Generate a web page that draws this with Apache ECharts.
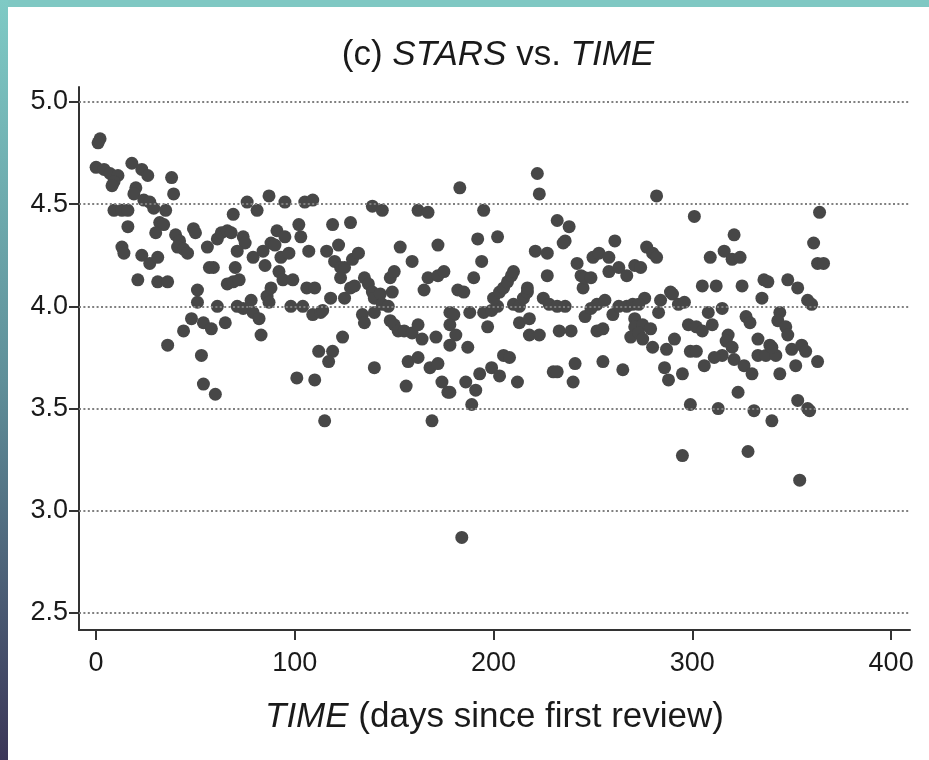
<!DOCTYPE html>
<html>
<head>
<meta charset="utf-8">
<script src="https://cdn.jsdelivr.net/npm/echarts@6/dist/echarts.min.js"></script>
<style>
html,body{margin:0;padding:0;background:#fff;}
#chart{width:929px;height:760px;}
</style>
</head>
<body>
<div id="chart"></div>
<script>
// ---- data (day since first review, stars) ----
const titleParts = ['(c) ', 'STARS', ' vs. ', 'TIME'];
const xAxisTitle = ['TIME', ' (days since first review)'];
const xTicks = [0, 100, 200, 300, 400];
const yTicks = [2.5, 3.0, 3.5, 4.0, 4.5, 5.0];

const reviews = [
[2,4.82],[1,4.80],[0,4.68],[4,4.67],[7,4.65],[11,4.64],[9,4.61],[8,4.59],[18,4.70],[23,4.67],[26,4.64],[38,4.63],[39,4.55],[20,4.58],[19,4.55],[24,4.52],[27,4.51],[29,4.48],[9,4.47],[13,4.47],[16,4.47],[35,4.47],[32,4.41],[34,4.40],[30,4.36],[16,4.39],[13,4.29],[14,4.26],[23,4.25],[27,4.21],[31,4.24],[21,4.13],[31,4.12],[36,4.12],[40,4.35],[42,4.32],[41,4.29],[44,4.28],[46,4.26],[49,4.38],[50,4.36],[56,4.29],[57,4.19],[59,4.19],[66,4.11],[69,4.12],[72,4.13],[70,4.19],[61,4.33],[63,4.36],[66,4.37],[68,4.36],[69,4.45],[76,4.51],[81,4.47],[87,4.54],[74,4.34],[75,4.31],[71,4.27],[79,4.24],[84,4.27],[85,4.20],[51,4.08],[51,4.02],[61,4.00],[71,4.00],[74,3.99],[78,4.03],[79,3.97],[82,3.94],[86,4.05],[87,4.02],[48,3.94],[54,3.92],[58,3.89],[65,3.92],[44,3.88],[36,3.81],[83,3.86],[53,3.76],[54,3.62],[60,3.57],
[95,4.51],[105,4.51],[109,4.52],[139,4.49],[144,4.47],[162,4.47],[167,4.46],[91,4.37],[95,4.34],[102,4.40],[103,4.34],[119,4.40],[128,4.41],[88,4.31],[90,4.30],[93,4.24],[97,4.26],[107,4.27],[116,4.27],[122,4.30],[120,4.22],[123,4.19],[125,4.19],[129,4.23],[132,4.26],[123,4.14],[92,4.17],[94,4.13],[99,4.13],[88,4.09],[106,4.09],[110,4.09],[98,4.00],[104,4.00],[109,3.96],[113,3.97],[114,3.98],[118,4.04],[125,4.04],[128,4.09],[130,4.10],[124,3.85],[112,3.78],[119,3.78],[117,3.73],[101,3.65],[110,3.64],[115,3.44],
[135,4.14],[137,4.11],[139,4.07],[140,4.04],[143,4.06],[144,4.01],[147,4.00],[149,4.07],[148,4.14],[150,4.17],[134,3.96],[135,3.92],[140,3.97],
[148,3.93],[150,3.91],[152,3.88],[155,3.88],[159,3.87],[162,3.91],[164,3.84],[171,3.85],
[153,4.29],[159,4.22],[165,4.08],[167,4.14],[172,4.15],[175,4.17],[172,4.30],
[157,3.73],[162,3.75],[168,3.70],[172,3.72],[174,3.63],[177,3.58],[156,3.61],[140,3.70],[169,3.44],
[183,4.58],[222,4.65],[223,4.55],[195,4.47],[192,4.33],[202,4.34],[194,4.22],[190,4.14],[182,4.08],[185,4.07],[178,3.97],[180,3.96],[188,3.97],[178,3.91],[181,3.86],[178,3.81],[187,3.80],[197,3.90],[195,3.97],[199,3.98],[202,4.00],[200,4.04],[203,4.07],[205,4.09],[207,4.12],[209,4.15],[210,4.17],[210,4.01],[213,4.00],[215,4.04],[217,4.07],[217,4.09],[213,3.92],[218,3.94],[218,3.86],[223,3.86],[205,3.76],[208,3.75],[193,3.67],[199,3.70],[203,3.66],[186,3.63],[191,3.59],[178,3.58],[189,3.52],[212,3.63],[184,2.87],
[221,4.27],[227,4.26],[227,4.15],[225,4.04],[228,4.01],[232,4.00],[236,4.00],[232,4.42],[238,4.39],[236,4.32],[235,4.31],[233,3.88],[239,3.88],[230,3.68],[232,3.68],[241,3.72],[240,3.63],
[242,4.21],[244,4.15],[245,4.09],[246,4.14],[249,4.14],[250,4.24],[253,4.26],[246,3.95],[249,3.99],[252,4.01],[256,4.03],[252,3.88],[255,3.89],[255,3.73],[258,4.24],[258,4.17],[261,4.32],[260,3.96],[263,4.00],[267,4.00],[263,4.19],[267,4.15],[265,3.69],[270,4.01],[271,3.94],[269,3.85],[271,3.90],[271,4.20],[274,4.19],
[282,4.54],[301,4.44],[364,4.46],[361,4.31],[363,4.21],[366,4.21],[277,4.29],[280,4.26],[282,4.24],[276,4.04],[273,4.01],[284,4.03],[289,4.07],[290,4.06],[293,4.01],[296,4.02],[283,3.97],[275,3.91],[273,3.87],[279,3.89],[275,3.84],[280,3.80],[287,3.79],[291,3.84],[298,3.91],[302,3.90],[305,3.88],[308,3.97],[310,3.91],[305,4.10],[312,4.10],[309,4.24],[315,3.99],[316,4.27],[320,4.23],[324,4.24],[321,4.35],[325,4.10],[336,4.13],[338,4.12],[335,4.04],[348,4.13],[353,4.09],[358,4.03],[360,4.01],[327,3.95],[329,3.92],[344,3.97],[343,3.93],[347,3.90],[348,3.86],[318,3.86],[317,3.83],[320,3.80],[315,3.76],[311,3.75],[306,3.71],[299,3.78],[302,3.78],[286,3.70],[288,3.64],[295,3.67],[321,3.74],[326,3.71],[330,3.67],[323,3.58],[333,3.84],[333,3.76],[337,3.76],[339,3.81],[342,3.76],[340,3.80],[344,3.67],[350,3.79],[352,3.71],[355,3.81],[357,3.78],[363,3.73],[299,3.52],[313,3.50],[331,3.49],[340,3.44],[353,3.54],[358,3.50],[359,3.49],[295,3.27],[328,3.29],[354,3.15]
];

const FONT = '"Liberation Sans", Arial, Helvetica, sans-serif';
const chart = echarts.init(document.getElementById('chart'), null, {renderer: 'canvas'});

chart.setOption({
  backgroundColor: '#ffffff',
  animation: false,
  graphic: [
    { type: 'rect', left: 0, top: 0, z: 100, silent: true,
      shape: { width: 929, height: 7 }, style: { fill: '#7fc8c3' } },
    { type: 'rect', left: 0, top: 0, z: 100, silent: true,
      shape: { width: 8, height: 760 },
      style: { fill: new echarts.graphic.LinearGradient(0, 0, 0, 1, [
        { offset: 0, color: '#7fcac5' },
        { offset: 0.5, color: '#5f8f99' },
        { offset: 1, color: '#3b3658' }
      ]) } }
  ],
  title: {
    text: titleParts[0] + '{i|' + titleParts[1] + '}' + titleParts[2] + '{i|' + titleParts[3] + '}',
    left: 493, top: 33, textAlign: 'center',
    textStyle: {
      fontFamily: FONT, fontSize: 35, fontWeight: 'normal', color: '#1a1a1a',
      rich: { i: { fontFamily: FONT, fontSize: 35, fontStyle: 'italic', color: '#1a1a1a' } }
    }
  },
  grid: { left: 79, right: 19, top: 87, bottom: 130, containLabel: false },
  xAxis: {
    type: 'value', min: -8.6, max: 409.5,
    name: '{i|' + xAxisTitle[0] + '}' + xAxisTitle[1],
    nameLocation: 'middle', nameGap: 70,
    nameTextStyle: {
      fontFamily: FONT, fontSize: 35, color: '#1a1a1a',
      rich: { i: { fontFamily: FONT, fontSize: 35, fontStyle: 'italic', color: '#1a1a1a' } }
    },
    axisLine: { show: true, onZero: false, lineStyle: { color: '#333', width: 2 } },
    axisTick: { show: true, inside: false, length: 10, customValues: xTicks, lineStyle: { color: '#333', width: 2 } },
    axisLabel: { customValues: xTicks, margin: 20, fontFamily: FONT, fontSize: 27, color: '#1a1a1a' },
    splitLine: { show: false }
  },
  yAxis: {
    type: 'value', min: 2.417, max: 5.073,
    axisLine: { show: true, onZero: false, lineStyle: { color: '#333', width: 2 } },
    axisTick: { show: true, inside: false, length: 10, customValues: yTicks, lineStyle: { color: '#333', width: 2 } },
    axisLabel: { customValues: yTicks, margin: 11, fontFamily: FONT, fontSize: 27, color: '#1a1a1a',
      formatter: v => v.toFixed(1) },
    splitLine: { show: false }
  },
  series: [
    {
      type: 'line', data: [], z: 1, silent: true,
      markLine: {
        silent: true, symbol: ['none', 'none'], animation: false,
        label: { show: false },
        lineStyle: { color: '#808080', width: 2, type: [2, 2.4] },
        data: yTicks.map(v => ({ yAxis: v }))
      }
    },
    {
      type: 'scatter', z: 2, symbol: 'circle', symbolSize: 13,
      itemStyle: { color: '#474747', opacity: 1 },
      data: reviews
    }
  ]
});
</script>
</body>
</html>
